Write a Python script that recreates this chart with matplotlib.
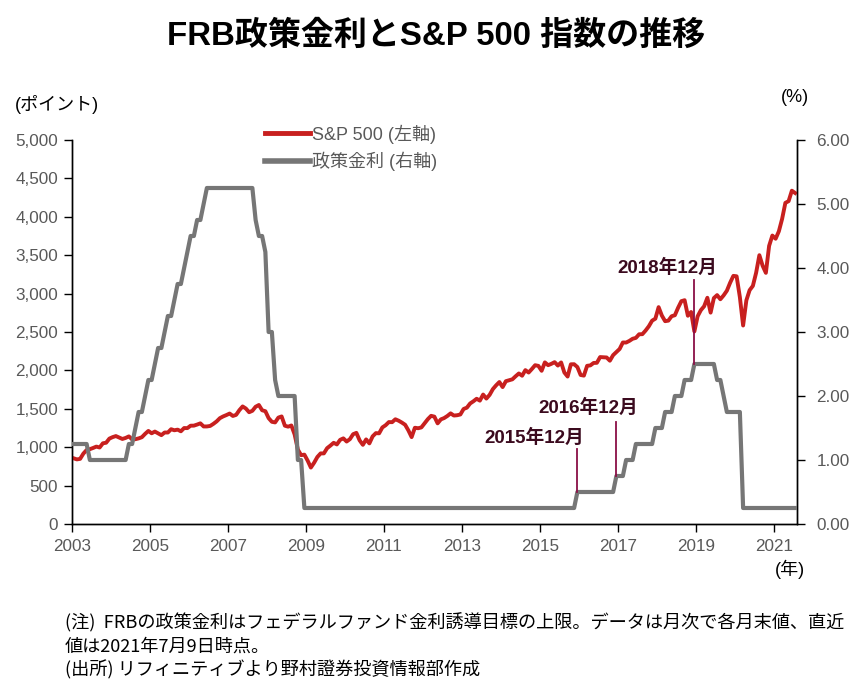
import numpy as np
import matplotlib
matplotlib.use('Agg')
import matplotlib.pyplot as plt
from matplotlib.lines import Line2D

plt.rcParams['font.family'] = ['Liberation Sans', 'Noto Sans CJK JP']

# S&P 500 month-end close, Jan 2003 - Jul 2021 (last = 2021/7/9)
sp500 = {
    2003: [855.7, 841.2, 848.2, 916.9, 963.6, 974.5, 990.3, 1008.0, 996.0, 1050.7, 1058.2, 1111.9],
    2004: [1131.1, 1144.9, 1126.2, 1107.3, 1120.7, 1140.8, 1101.7, 1104.2, 1114.6, 1130.2, 1173.8, 1211.9],
    2005: [1181.3, 1203.6, 1180.6, 1156.9, 1191.5, 1191.3, 1234.2, 1220.3, 1228.8, 1207.0, 1249.5, 1248.3],
    2006: [1280.1, 1280.7, 1294.8, 1310.6, 1270.1, 1270.2, 1276.7, 1303.8, 1335.9, 1377.9, 1400.6, 1418.3],
    2007: [1438.2, 1406.8, 1420.9, 1482.4, 1530.6, 1503.4, 1455.3, 1474.0, 1526.8, 1549.4, 1481.1, 1468.4],
    2008: [1378.6, 1330.6, 1322.7, 1385.6, 1400.4, 1280.0, 1267.4, 1282.8, 1166.4, 968.8, 896.2, 903.3],
    2009: [825.9, 735.1, 797.9, 872.8, 919.1, 919.3, 987.5, 1020.6, 1057.1, 1036.2, 1095.6, 1115.1],
    2010: [1073.9, 1104.5, 1169.4, 1186.7, 1089.4, 1030.7, 1101.6, 1049.3, 1141.2, 1183.3, 1180.6, 1257.6],
    2011: [1286.1, 1327.2, 1325.8, 1363.6, 1345.2, 1320.6, 1292.3, 1219.0, 1131.4, 1253.3, 1247.0, 1257.6],
    2012: [1312.4, 1365.7, 1408.5, 1397.9, 1310.3, 1362.2, 1379.3, 1406.6, 1440.7, 1412.2, 1416.2, 1426.2],
    2013: [1498.1, 1514.7, 1569.2, 1597.6, 1630.7, 1606.3, 1685.7, 1633.0, 1681.6, 1756.5, 1805.8, 1848.4],
    2014: [1782.6, 1859.5, 1872.3, 1883.9, 1923.6, 1960.2, 1930.7, 2003.4, 1972.3, 2018.1, 2067.6, 2058.9],
    2015: [1995.0, 2104.5, 2067.9, 2085.5, 2107.4, 2063.1, 2103.8, 1972.2, 1920.0, 2079.4, 2080.4, 2043.9],
    2016: [1940.2, 1932.2, 2059.7, 2065.3, 2097.0, 2098.9, 2173.6, 2171.0, 2168.3, 2126.2, 2198.8, 2238.8],
    2017: [2278.9, 2363.6, 2362.7, 2384.2, 2411.8, 2423.4, 2470.3, 2471.7, 2519.4, 2575.3, 2647.6, 2673.6],
    2018: [2823.8, 2713.8, 2640.9, 2648.1, 2705.3, 2718.4, 2816.3, 2901.5, 2914.0, 2711.7, 2760.2, 2506.9],
    2019: [2704.1, 2784.5, 2834.4, 2945.8, 2752.1, 2941.8, 2980.4, 2926.5, 2976.7, 3037.6, 3141.0, 3230.8],
    2020: [3225.5, 2954.2, 2584.6, 2912.4, 3044.3, 3100.3, 3271.1, 3500.3, 3363.0, 3270.0, 3621.6, 3756.1],
    2021: [3714.2, 3811.2, 3972.9, 4181.2, 4204.1, 4340.0, 4310.0],
}

# FF target upper bound (%), month-end
ffr = {
    2003: [1.25, 1.25, 1.25, 1.25, 1.25, 1.00, 1.00, 1.00, 1.00, 1.00, 1.00, 1.00],
    2004: [1.00, 1.00, 1.00, 1.00, 1.00, 1.25, 1.25, 1.50, 1.75, 1.75, 2.00, 2.25],
    2005: [2.25, 2.50, 2.75, 2.75, 3.00, 3.25, 3.25, 3.50, 3.75, 3.75, 4.00, 4.25],
    2006: [4.50, 4.50, 4.75, 4.75, 5.00, 5.25, 5.25, 5.25, 5.25, 5.25, 5.25, 5.25],
    2007: [5.25, 5.25, 5.25, 5.25, 5.25, 5.25, 5.25, 5.25, 4.75, 4.50, 4.50, 4.25],
    2008: [3.00, 3.00, 2.25, 2.00, 2.00, 2.00, 2.00, 2.00, 2.00, 1.00, 1.00, 0.25],
    2009: [0.25] * 12,
    2010: [0.25] * 12,
    2011: [0.25] * 12,
    2012: [0.25] * 12,
    2013: [0.25] * 12,
    2014: [0.25] * 12,
    2015: [0.25, 0.25, 0.25, 0.25, 0.25, 0.25, 0.25, 0.25, 0.25, 0.25, 0.25, 0.50],
    2016: [0.50, 0.50, 0.50, 0.50, 0.50, 0.50, 0.50, 0.50, 0.50, 0.50, 0.50, 0.75],
    2017: [0.75, 0.75, 1.00, 1.00, 1.00, 1.25, 1.25, 1.25, 1.25, 1.25, 1.25, 1.50],
    2018: [1.50, 1.50, 1.75, 1.75, 1.75, 2.00, 2.00, 2.00, 2.25, 2.25, 2.25, 2.50],
    2019: [2.50, 2.50, 2.50, 2.50, 2.50, 2.50, 2.25, 2.25, 2.00, 1.75, 1.75, 1.75],
    2020: [1.75, 1.75, 0.25, 0.25, 0.25, 0.25, 0.25, 0.25, 0.25, 0.25, 0.25, 0.25],
    2021: [0.25, 0.25, 0.25, 0.25, 0.25, 0.25, 0.25],
}

# annotations: (label, year, month)
notes = [('2015年12月', 2015, 12), ('2016年12月', 2016, 12), ('2018年12月', 2018, 12)]
note_top = [1.17, 1.59, 3.81]
note_text_xy = [(2014.85, 1.34), (2016.23, 1.81), (2018.26, 4.00)]

sp_vals = np.concatenate([sp500[y] for y in sorted(sp500)])
ff_vals = np.concatenate([ffr[y] for y in sorted(ffr)])
t = 2003 + (np.arange(len(sp_vals)) + 0.5) / 12.0

red = '#c8201f'
gray = '#767676'
txt = '#595959'
maroon = '#8a0f46'
dark = '#3b0a1e'

fig = plt.figure(figsize=(8.64, 6.97), dpi=100)
ax = fig.add_axes([72/864, 1-524/697, (797-72)/864, (524-140)/697])
ax2 = ax.twinx()

ax.plot(t, sp_vals, color=red, lw=2.8, solid_joinstyle='round', zorder=3)
ax2.plot(t, ff_vals, color=gray, lw=3.0, solid_joinstyle='round', zorder=3)

ax.set_xlim(2003, 2021.59)
ax.set_ylim(0, 5000)
ax2.set_ylim(0, 6)
ax.set_xticks(np.arange(2003, 2022, 2))
ax.set_yticks(np.arange(0, 5001, 500))
ax.set_yticklabels([f'{v:,}' for v in range(0, 5001, 500)])
ax2.set_yticks(np.arange(0, 7))
ax2.set_yticklabels([f'{v:.2f}' for v in range(0, 7)])

for a in (ax, ax2):
    a.spines['top'].set_visible(False)
    for s in a.spines.values():
        s.set_linewidth(1.0)
        s.set_color('black')
    a.tick_params(direction='out', length=6, width=1, color='black',
                  labelcolor=txt, labelsize=12.3, pad=4)
ax.tick_params(axis='x', pad=5)
ax2.tick_params(axis='y', pad=8)

for (lab, yy, mm), top, (tx, ty) in zip(notes, note_top, note_text_xy):
    xv = yy + (mm - 0.5) / 12.0
    base = ffr[yy][mm - 1]
    ax2.plot([xv, xv], [base, top], color=maroon, lw=1.3, zorder=4)
    ax2.text(tx, ty, lab, ha='center', va='center', fontsize=13.5,
             fontweight='bold', color=dark, family=['Liberation Sans', 'Noto Sans CJK JP'])

handles = [Line2D([], [], color=red, lw=3.5), Line2D([], [], color=gray, lw=4)]
fig.legend(handles, ['S&P 500 (左軸)', '政策金利 (右軸)'], loc='upper left',
           bbox_to_anchor=(249/864, 1-108/697), frameon=False, fontsize=13,
           handlelength=2.5, handletextpad=0.1, labelspacing=0.45, labelcolor=txt)

fig.text(0.505, 1-36/697, 'FRB政策金利とS&P 500 指数の推移', ha='center', va='center',
         fontsize=23.8, fontweight='bold', color='black',
         family=['Liberation Sans', 'Noto Sans CJK JP'])
fig.text(15/864, 1-104/697, '(ポイント)', ha='left', va='center', fontsize=13, color='black')
fig.text(795/864, 1-97/697, '(%)', ha='center', va='center', fontsize=13, color='black')
fig.text(790/864, 1-569/697, '(年)', ha='center', va='center', fontsize=13, color='black')

foot = ['(注)  FRBの政策金利はフェデラルファンド金利誘導目標の上限。データは月次で各月末値、直近',
        '値は2021年7月9日時点。',
        '(出所) リフィニティブより野村證券投資情報部作成']
for i, line in enumerate(foot):
    fig.text(65/864, 1-(623 + 23.5*i)/697, line, ha='left', va='center', fontsize=13.1,
             color='black', family=['Noto Sans CJK JP', 'DejaVu Sans'])

fig.savefig('out.png', dpi=100)
